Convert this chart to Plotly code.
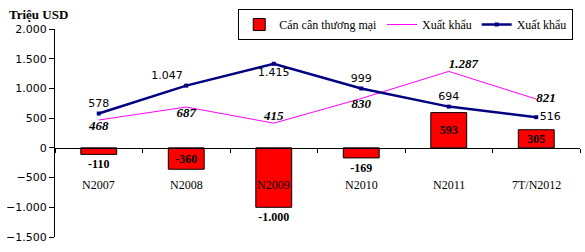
import plotly.graph_objects as go

categories = ["N2007", "N2008", "N2009", "N2010", "N2011", "7T/N2012"]
can_can = [-110, -360, -1000, -169, 593, 305]
xuat_khau_pink = [468, 687, 415, 830, 1287, 821]
xuat_khau_navy = [578, 1047, 1415, 999, 694, 516]
y_ticks = [-1500, -1000, -500, 0, 500, 1000, 1500, 2000]


def fmt(v):
    return f"{v:,}".replace(",", ".")


serif = "Liberation Serif"
sans = "DejaVu Sans"

fig = go.Figure()

fig.add_trace(go.Bar(
    x=categories, y=can_can, name="Cán cân thương mại",
    marker=dict(color="#FF0000", line=dict(color="black", width=1)),
    width=0.41,
    text=[fmt(v) for v in can_can],
    textposition=["outside", "inside", "outside", "outside", "inside", "inside"],
    insidetextanchor="middle",
    constraintext="none",
    textfont=dict(family=serif, size=12, color="black", weight="bold"),
    cliponaxis=False, hoverinfo="skip",
))

fig.add_trace(go.Scatter(
    x=categories, y=xuat_khau_pink, name="Xuất khẩu", mode="lines+text",
    line=dict(color="#FF00FF", width=1),
    text=[fmt(v) for v in xuat_khau_pink],
    textposition=["bottom center", "bottom center", "top center", "bottom center", "top right", "middle right"],
    textfont=dict(family=serif, size=13, color="black", weight="bold", style="italic"),
    cliponaxis=False, hoverinfo="skip",
))

fig.add_trace(go.Scatter(
    x=categories, y=xuat_khau_navy, name="Xuất khẩu", mode="lines+markers+text",
    line=dict(color="#000080", width=2.5),
    marker=dict(symbol="square", size=4, color="#000080"),
    text=[fmt(v) for v in xuat_khau_navy],
    textposition=["top center", "top left", "bottom center", "top center", "top center", "middle right"],
    textfont=dict(family=sans, size=11, color="black"),
    cliponaxis=False, hoverinfo="skip",
))

annotations = [
    dict(x=c, y=0, xref="x", yref="y", text=c, showarrow=False, yshift=-37,
         font=dict(family=serif, size=12, color="black"))
    for c in categories
]
annotations.append(dict(x=0, y=1, xref="paper", yref="paper", text="<b>Triệu USD</b>",
                        showarrow=False, xanchor="left", yanchor="middle",
                        xshift=-48, yshift=15,
                        font=dict(family=serif, size=13, color="black")))

fig.update_layout(
    width=585, height=252,
    margin=dict(l=55, r=5, t=29, b=15),
    plot_bgcolor="white", paper_bgcolor="white",
    separators=",.",
    showlegend=True,
    legend=dict(orientation="h", x=0.349, y=1.096, xanchor="left", yanchor="top",
                bordercolor="black", borderwidth=1, bgcolor="white",
                font=dict(family=serif, size=12, color="black"),
                itemwidth=30, tracegroupgap=0),
    xaxis=dict(range=[-0.5, 5.5], anchor="free", position=1500 / 3500,
               showline=True, linecolor="black", linewidth=1,
               ticks="outside", ticklen=4, tickcolor="black", tickson="boundaries",
               showticklabels=False, showgrid=False, zeroline=False),
    yaxis=dict(range=[-1500, 2000], tickvals=y_ticks, tickformat=",d",
               showline=True, linecolor="black", linewidth=1,
               ticks="outside", ticklen=5, tickcolor="black",
               showgrid=False, zeroline=False,
               tickfont=dict(family=sans, size=11, color="black")),
    annotations=annotations,
    bargap=0.59,
)

fig.write_html("out.html")
